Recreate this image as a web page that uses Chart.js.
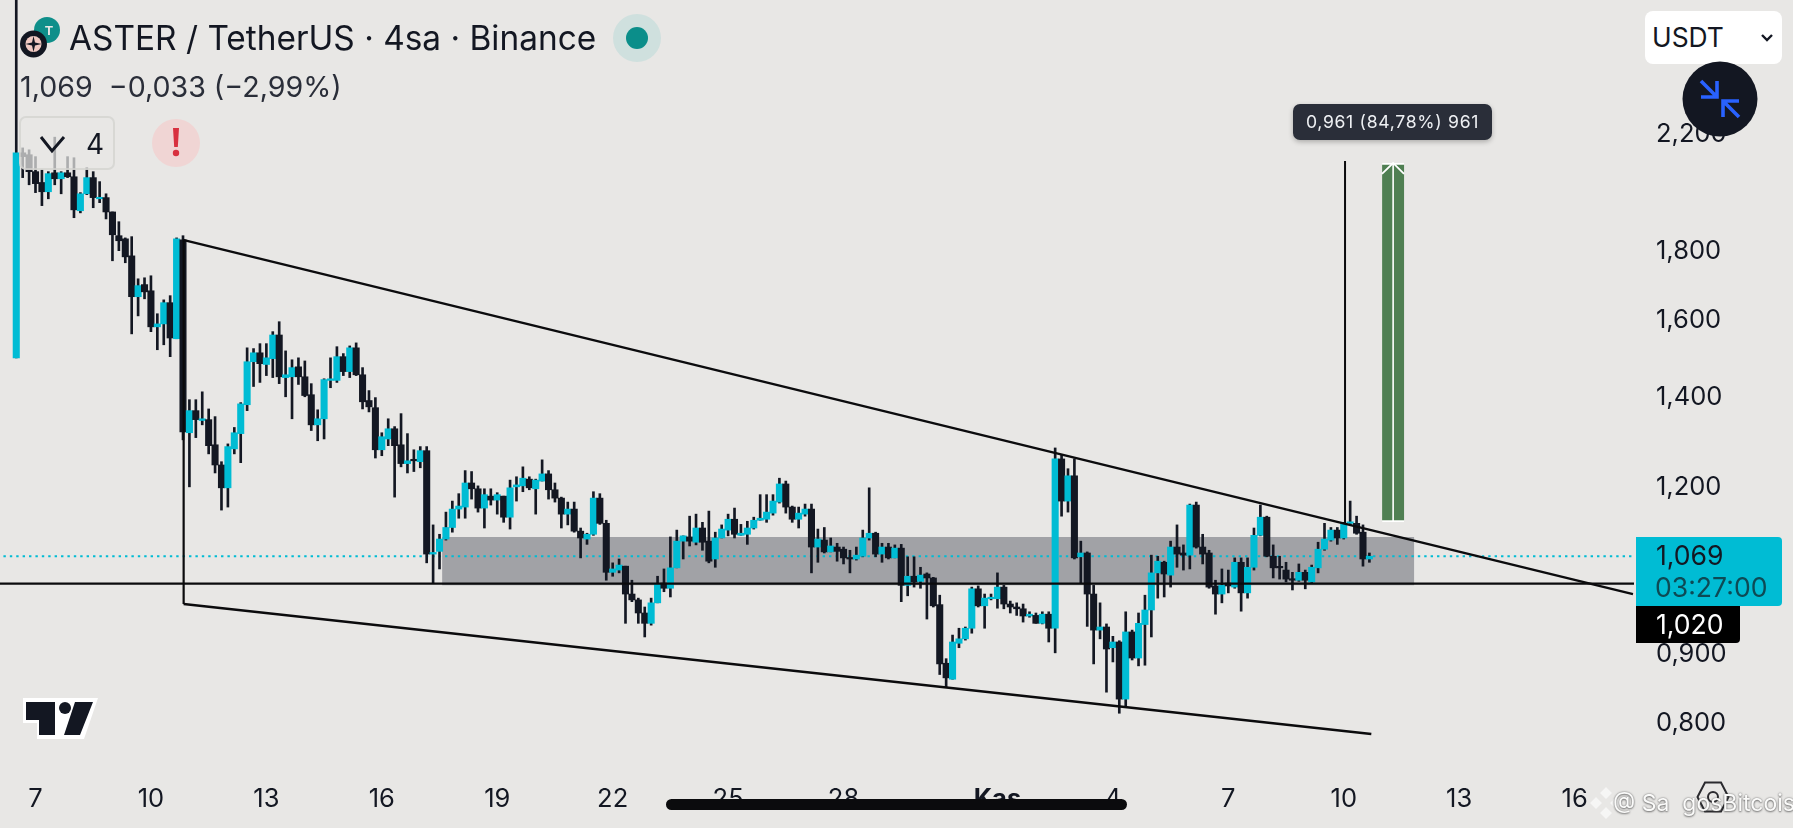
<!DOCTYPE html>
<html>
<head>
<meta charset="utf-8">
<script src="https://cdn.jsdelivr.net/npm/chart.js@4/dist/chart.umd.min.js"></script>
<style>
html,body{margin:0;padding:0;background:#e8e7e5;overflow:hidden;font-family:Inter,"Liberation Sans",sans-serif;color:#131722}
#wrap{position:relative;width:1793px;height:828px}
canvas{position:absolute;left:0;top:0}
.a{position:absolute;white-space:nowrap}
</style>
</head>
<body>
<div id="wrap">
<canvas id="c" width="1793" height="828"></canvas>

<svg class="a" style="left:18px;top:14px" width="56" height="50" viewBox="0 0 56 50">
  <circle cx="29" cy="16" r="13" fill="#0f8f8a"/>
  <text x="31" y="21" font-size="13" font-weight="700" text-anchor="middle" fill="#e8e7e5" font-family="Liberation Sans">T</text>
  <circle cx="15.5" cy="30" r="13.5" fill="#131722"/>
  <circle cx="15.5" cy="30" r="8" fill="#f0c9c2"/>
  <path d="M15.5 22 L17 28.5 L23.5 30 L17 31.5 L15.5 38 L14 31.5 L7.5 30 L14 28.5Z" fill="#131722"/>
</svg>
<div class="a" id="title" style="left:69px;top:17px;font-size:33.4px;line-height:42px">ASTER / TetherUS · 4sa · Binance</div>
<svg class="a" style="left:612px;top:13px" width="50" height="50"><circle cx="25" cy="25" r="24" fill="#cfe0de"/><circle cx="25" cy="25" r="11" fill="#0b8e8a"/></svg>
<div class="a" id="sub" style="left:20px;top:70px;font-size:28.6px;line-height:34px;color:#2a2e39">1,069&nbsp; −0,033 (−2,99%)</div>

<div class="a" style="left:19px;top:116px;width:96px;height:54px;border:2px solid rgba(210,209,207,.75);border-radius:7px;background:rgba(232,231,229,.72);box-sizing:border-box"></div>
<svg class="a" style="left:38px;top:134px" width="30" height="22"><path d="M3 3 L14 17 L26 3" fill="none" stroke="#131722" stroke-width="3"/></svg>
<div class="a" style="left:86px;top:127px;font-size:28px;line-height:34px">4</div>
<svg class="a" style="left:152px;top:119px" width="48" height="48"><circle cx="24" cy="24" r="24" fill="#f0d5d4"/><path d="M21 9h6l-1.2 19h-3.6z" fill="#d8303f"/><circle cx="24" cy="34" r="3.2" fill="#d8303f"/></svg>

<div class="a" style="left:1293px;top:104px;width:199px;height:36px;border-radius:7px;background:#2a2e39;box-shadow:0 2px 5px rgba(0,0,0,.25);color:#eef0f3;font-size:17.6px;line-height:36px;text-align:center;letter-spacing:.7px">0,961 (84,78%) 961</div>

<div class="a" style="left:1645px;top:11px;width:137px;height:53px;border-radius:8px;background:#fff"></div>
<div class="a" style="left:1652px;top:20px;font-size:26.4px;line-height:34px">USDT</div>
<svg class="a" style="left:1760px;top:32px" width="14" height="12"><path d="M2 3 L7 8 L12 3" fill="none" stroke="#131722" stroke-width="2.4"/></svg>

<div class="a" style="left:1636px;top:537px;width:146px;height:69px;border-radius:0 4px 4px 0;background:#00bcd4"></div>
<div class="a" style="left:1656px;top:537px;font-size:26.6px;line-height:36px;color:#131722">1,069</div>
<div class="a" style="left:1655px;top:569px;font-size:26.6px;line-height:36px;color:#0d4a55">03:27:00</div>
<div class="a" style="left:1636px;top:606px;width:104px;height:37px;border-radius:0 0 4px 0;background:#000"></div>
<div class="a" style="left:1656px;top:606px;font-size:26.6px;line-height:36px;color:#fff">1,020</div>

<svg class="a" style="left:22px;top:697px" width="78" height="43" viewBox="0 0 78 43">
  <path d="M1 1H76L62 42H15V26H1Z" fill="#fff"/>
  <path d="M4 5H33V38H17V23H4Z M53 5H71L58 38H42Z" fill="#131722"/>
  <circle cx="43" cy="11" r="6" fill="#131722"/>
</svg>

<div class="a" style="left:666px;top:799px;width:461px;height:11px;border-radius:6px;background:#0b0b0d"></div>

<svg class="a" style="left:1696px;top:781px" width="34" height="32"><path d="M9 1.5H25L32.5 16L25 30.5H9L1.5 16Z" fill="none" stroke="#2a2a2e" stroke-width="2"/><circle cx="17" cy="16" r="5" fill="none" stroke="#2a2a2e" stroke-width="2"/></svg>
<svg class="a" style="left:1588px;top:785px" width="36" height="36"><path d="M18 2 L24 8 L18 14 L12 8Z M8 12 L14 18 L8 24 L2 18Z M28 12 L34 18 L28 24 L22 18Z M18 22 L24 28 L18 34 L12 28Z" fill="#f7f7f6" opacity=".95"/></svg>
<div class="a" style="left:1613px;top:787px;font-size:23px;line-height:32px;color:#fbfbfa;text-shadow:0 0 2px rgba(70,70,70,.75),0 1px 2px rgba(70,70,70,.6)">@ Sa&nbsp; gosBitcois</div>
<svg class="a" style="left:1682px;top:61px" width="76" height="76">
  <circle cx="38" cy="38" r="37.5" fill="#131722"/>
  <path d="M19 20 L35 36 M35 20 V36 H19 M57 56 L41 40 M41 56 V40 H57" fill="none" stroke="#2962ff" stroke-width="3.6"/>
</svg>
</div>

<script>
const firstCandle = -3;
const opens = [
1.499,2.132,2.125,2.064,2.026,1.994,2.060,2.039,2.060,2.046,
1.930,1.987,2.043,1.970,1.974,1.926,1.849,1.839,1.786,1.665,
1.700,1.682,1.581,1.589,1.648,1.549,1.836,1.318,1.369,1.346,
1.348,1.291,1.247,1.199,1.282,1.316,1.383,1.489,1.512,1.482,
1.497,1.559,1.449,1.451,1.476,1.451,1.407,1.336,1.350,1.442,
1.442,1.502,1.464,1.525,1.456,1.393,1.376,1.280,1.304,1.327,
1.291,1.250,1.258,1.254,1.278,1.070,1.075,1.098,1.120,1.156,
1.160,1.209,1.197,1.158,1.182,1.174,1.182,1.140,1.201,1.203,
1.217,1.197,1.213,1.228,1.195,1.178,1.146,1.156,1.113,1.098,
1.107,1.178,1.128,1.037,1.041,1.048,0.999,0.989,0.967,0.950,
0.984,1.018,1.009,1.045,1.094,1.102,1.092,1.119,1.094,1.061,
1.100,1.115,1.136,1.105,1.107,1.119,1.134,1.136,1.148,1.170,
1.207,1.160,1.136,1.146,1.156,1.083,1.096,1.074,1.083,1.079,
1.063,1.061,1.066,1.100,1.109,1.070,1.083,1.063,1.081,1.014,
1.030,1.021,1.034,1.027,0.981,0.887,0.863,0.918,0.925,0.942,
1.008,0.979,0.991,0.991,1.011,0.982,0.977,0.974,0.962,0.963,
0.950,0.965,0.942,1.260,1.172,1.224,1.065,1.072,0.999,0.939,
0.944,0.911,0.920,0.834,0.936,0.895,0.948,0.972,1.036,1.055,
1.032,1.083,1.072,1.068,1.164,1.083,1.072,1.013,0.999,1.018,
1.011,1.055,1.001,1.046,1.105,1.140,1.066,1.046,1.041,1.025,
1.023,1.037,1.020,1.045,1.079,1.096,1.115,1.100,1.128,1.128,
1.111,1.061];
const highs = [
2.900,2.150,2.143,2.118,2.071,2.064,2.190,2.064,2.118,2.114,
1.991,2.078,2.064,2.029,1.987,1.926,1.894,1.842,1.846,1.717,
1.720,1.726,1.617,1.656,1.668,1.842,1.849,1.395,1.395,1.414,
1.373,1.355,1.254,1.293,1.330,1.388,1.525,1.523,1.536,1.536,
1.568,1.595,1.517,1.494,1.499,1.491,1.434,1.371,1.446,1.499,
1.528,1.510,1.530,1.538,1.474,1.417,1.400,1.318,1.350,1.332,
1.362,1.316,1.280,1.287,1.287,1.125,1.107,1.150,1.172,1.187,
1.235,1.233,1.203,1.197,1.197,1.189,1.182,1.215,1.222,1.243,
1.222,1.217,1.258,1.235,1.209,1.180,1.170,1.170,1.119,1.109,
1.191,1.187,1.134,1.054,1.061,1.048,1.023,0.992,0.977,0.992,
1.030,1.043,1.102,1.115,1.104,1.142,1.146,1.130,1.152,1.111,
1.125,1.146,1.158,1.126,1.132,1.140,1.185,1.185,1.185,1.219,
1.213,1.162,1.160,1.166,1.166,1.117,1.120,1.100,1.090,1.083,
1.077,1.083,1.115,1.199,1.111,1.090,1.090,1.087,1.088,1.065,
1.065,1.046,1.036,1.028,0.997,0.894,0.931,0.942,0.944,1.011,
1.013,0.999,0.999,1.036,1.014,0.987,0.984,0.982,0.969,0.967,
0.969,0.969,1.284,1.269,1.239,1.260,1.094,1.074,1.014,0.984,
0.949,0.929,0.922,0.969,0.939,0.967,0.997,1.068,1.066,1.057,
1.094,1.125,1.087,1.166,1.170,1.107,1.077,1.023,1.043,1.041,
1.063,1.063,1.063,1.119,1.164,1.142,1.087,1.066,1.055,1.037,
1.052,1.041,1.050,1.092,1.128,1.120,1.120,1.130,1.172,1.142,
1.125,1.072];
const lows = [
1.499,2.043,2.018,1.991,1.947,1.970,2.018,1.987,2.043,1.907,
1.923,1.984,1.940,1.957,1.903,1.771,1.802,1.765,1.562,1.611,
1.659,1.568,1.520,1.533,1.502,1.549,1.302,1.201,1.307,1.336,
1.271,1.230,1.154,1.160,1.271,1.252,1.369,1.427,1.437,1.454,
1.449,1.434,1.402,1.350,1.432,1.402,1.323,1.300,1.304,1.424,
1.437,1.454,1.449,1.454,1.373,1.366,1.262,1.267,1.289,1.180,
1.243,1.230,1.233,1.241,1.054,1.018,1.043,1.096,1.111,1.138,
1.138,1.176,1.150,1.119,1.164,1.146,1.130,1.117,1.172,1.191,
1.195,1.146,1.213,1.176,1.170,1.119,1.125,1.111,1.063,1.088,
1.105,1.126,1.023,1.030,1.036,0.950,0.986,0.950,0.928,0.947,
0.984,1.003,0.994,1.045,1.061,1.085,1.087,1.077,1.054,1.046,
1.100,1.104,1.100,1.105,1.088,1.117,1.134,1.130,1.144,1.168,
1.148,1.130,1.119,1.142,1.036,1.055,1.072,1.074,1.057,1.052,
1.036,1.059,1.065,1.096,1.065,1.055,1.061,1.063,0.986,0.996,
1.011,1.009,0.957,0.977,0.870,0.852,0.863,0.911,0.923,0.934,
0.977,0.942,0.989,0.975,0.974,0.967,0.963,0.952,0.960,0.950,
0.949,0.920,0.903,1.142,1.150,1.061,1.018,0.945,0.886,0.925,
0.844,0.889,0.814,0.823,0.892,0.883,0.884,0.928,0.992,0.994,
1.011,1.046,1.041,1.043,1.081,1.052,1.009,0.965,0.984,1.001,
1.009,0.970,0.992,1.041,1.104,1.065,1.027,1.025,1.020,1.006,
1.021,1.008,1.018,1.036,1.077,1.094,1.088,1.098,1.125,1.107,
1.048,1.055];
const closes = [
2.132,2.118,2.064,2.022,1.994,2.057,2.039,2.060,2.046,1.933,
1.987,2.043,1.974,1.974,1.926,1.852,1.833,1.783,1.665,1.697,
1.679,1.581,1.589,1.648,1.551,1.839,1.320,1.369,1.348,1.350,
1.289,1.247,1.199,1.287,1.318,1.385,1.489,1.512,1.484,1.499,
1.559,1.451,1.456,1.474,1.451,1.405,1.336,1.350,1.444,1.446,
1.502,1.464,1.525,1.456,1.390,1.378,1.280,1.309,1.327,1.289,
1.250,1.256,1.256,1.278,1.070,1.073,1.098,1.120,1.156,1.162,
1.209,1.197,1.158,1.185,1.174,1.185,1.140,1.199,1.205,1.219,
1.199,1.215,1.228,1.195,1.178,1.146,1.156,1.113,1.100,1.107,
1.178,1.128,1.037,1.043,1.050,0.999,0.989,0.967,0.950,0.984,
1.016,1.009,1.045,1.094,1.104,1.094,1.119,1.092,1.057,1.100,
1.117,1.136,1.107,1.109,1.119,1.134,1.138,1.150,1.172,1.207,
1.160,1.136,1.148,1.156,1.083,1.098,1.074,1.085,1.075,1.063,
1.061,1.068,1.100,1.109,1.070,1.083,1.063,1.081,1.014,1.030,
1.020,1.032,1.027,0.979,0.886,0.865,0.920,0.925,0.942,1.008,
0.979,0.992,0.992,1.011,0.982,0.977,0.974,0.962,0.965,0.950,
0.965,0.942,1.260,1.172,1.224,1.063,1.072,0.999,0.939,0.944,
0.909,0.920,0.834,0.936,0.895,0.950,0.972,1.036,1.057,1.034,
1.083,1.070,1.068,1.164,1.083,1.070,1.011,0.999,1.014,1.013,
1.055,1.001,1.046,1.105,1.140,1.066,1.045,1.045,1.025,1.023,
1.037,1.023,1.046,1.079,1.098,1.115,1.100,1.128,1.130,1.109,
1.061,1.066];

const priceTicks = [2.2,1.8,1.6,1.4,1.2,0.9,0.8];
const timeTickCandles = [0,18,36,54,72,90,108,126,150,168,186,204,222,240];
const timeTickLabels = ['7','10','13','16','19','22','25','28','Kas','4','7','10','13','16'];

const upperTrendX = [23,249.1],   upperTrendY = [1.836,0.999];
const lowerTrendX = [23.1,208.3], lowerTrendY = [0.982,0.7854];
const leftLegX = [23.1,23.1],     leftLegY = [1.836,0.982];
const supportX = [-6,250],        supportY = [1.017,1.017];
const lastPriceX = [-6,250],      lastPriceY = [1.066,1.066];
const zoneX = [63.4,215],         zoneTop = 1.102, zoneBottom = 1.014;
const measureX = [204.2,204.2],   measureY = [2.102,1.128];
const targetX = 211.7,            targetY = [1.131,2.095];
const targetHeadX = [209.96,211.7,213.4], targetHeadY = [2.056,2.095,2.056];

const UP = '#00bcd4', DOWN = '#131722';
const pts = (xs,ys) => xs.map((x,k)=>({x,y:ys[k]}));
const idx = opens.map((_,k)=>firstCandle+k);
const cols = opens.map((o,k)=>closes[k]>=o?UP:DOWN);
const line = (xs,ys,color,width,order,extra={}) => Object.assign({type:'line',data:pts(xs,ys),borderColor:color,borderWidth:width,pointRadius:0,tension:0,fill:false,order},extra);
const noPad = s => {s.paddingTop=0;s.paddingBottom=0;s.paddingLeft=0;s.paddingRight=0;};

new Chart(document.getElementById('c'),{
  type:'bar',
  data:{datasets:[
    line(zoneX,[zoneTop,zoneTop],'rgba(0,0,0,0)',0,9,{fill:{value:zoneBottom},backgroundColor:'#a1a2a6'}),
    line(lastPriceX,lastPriceY,UP,2.2,8,{borderDash:[2.4,4]}),
    {type:'bar',data:idx.map((x,k)=>({x,y:[lows[k],highs[k]]})),backgroundColor:cols.map(()=>DOWN),barThickness:2,grouped:false,order:6},
    {type:'bar',data:idx.map((x,k)=>({x,y:[opens[k],closes[k]]})),backgroundColor:cols,barThickness:6.4,grouped:false,order:5,minBarLength:1.5},
    line(supportX,supportY,'#0b0b0d',2.4,3),
    line(upperTrendX,upperTrendY,'#0b0b0d',2.4,3),
    line(lowerTrendX,lowerTrendY,'#0b0b0d',2.4,3),
    line(leftLegX,leftLegY,'#0b0b0d',2.2,3),
    line(measureX,measureY,'#0b0b0d',2,3),
    {type:'bar',data:[{x:targetX,y:targetY}],backgroundColor:'#4f7f52',borderColor:'#ffffff',borderWidth:{top:2,bottom:2,left:0,right:0},borderSkipped:false,barThickness:22,grouped:false,order:2},
    line([targetX,targetX],targetY,'#ffffff',1.6,1),
    line(targetHeadX,targetHeadY,'#ffffff',1.8,1)
  ]},
  options:{
    responsive:false,animation:false,
    layout:{padding:0},
    plugins:{legend:{display:false},tooltip:{enabled:false}},
    scales:{
      x:{type:'linear',offset:false,min:-5.536,max:249.26,bounds:'data',
        grid:{display:false,drawTicks:false},border:{display:false},
        afterFit(s){s.height=48;noPad(s);},
        afterBuildTicks(s){s.ticks=timeTickCandles.map(v=>({value:v}));},
        ticks:{autoSkip:false,maxRotation:0,padding:4,color:'#131722',
          font:c=>({family:'Inter',size:25.5,weight:timeTickLabels[timeTickCandles.indexOf(c.tick&&c.tick.value)]==='Kas'?'700':'400'}),
          callback:v=>timeTickLabels[timeTickCandles.indexOf(v)]}},
      y:{type:'logarithmic',position:'right',min:0.7258,max:2.772,bounds:'data',
        grid:{display:false,drawTicks:false},border:{display:false},
        afterFit(s){s.width=159;noPad(s);},
        afterBuildTicks(s){s.ticks=priceTicks.map(v=>({value:v}));},
        ticks:{padding:22,color:'#131722',font:{family:'Inter',size:25.5},
          callback:v=>v.toFixed(3).replace('.',',')}}
    }
  }
});
</script>
</body>
</html>
